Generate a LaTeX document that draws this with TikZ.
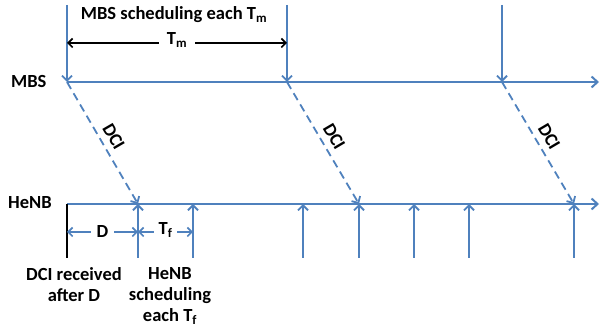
\documentclass[tikz,border=0pt]{standalone}
\usepackage{fontspec}
\setmainfont{Carlito}
\usetikzlibrary{arrows.meta}
\definecolor{lineblue}{RGB}{79,129,189}
\begin{document}
\begin{tikzpicture}[x=1pt,y=-1pt,
  axis/.style={lineblue, line width=2pt, -{Straight Barb[length=6pt,width=11pt]}},
  tick/.style={lineblue, line width=1.8pt, -{Straight Barb[length=5pt,width=10pt]}},
  dci/.style={lineblue, line width=1.8pt, dash pattern=on 8pt off 5pt, -{Straight Barb[length=5pt,width=10pt]}},
  span/.style={line width=1.6pt, {Straight Barb[length=4.5pt,width=9pt]}-{Straight Barb[length=4.5pt,width=9pt]}},
  lbl/.style={text=black, font=\bfseries\fontsize{18.5}{21}\selectfont, inner sep=1pt},
]
\useasboundingbox (0,0) rectangle (600,328);

% time axes
\coordinate (m1) at (67,82);
\coordinate (m2) at (287,82);
\coordinate (m3) at (502,82);
\coordinate (mend) at (599,82);
\coordinate (h0) at (67,204);
\coordinate (h1) at (138,204);
\coordinate (h2) at (359,204);
\coordinate (h3) at (574,204);
\coordinate (hend) at (599,204);

\draw[axis] (m1) -- (mend);
\draw[axis] (h0) -- (hend);

\node[lbl, anchor=base west] (mbs) at (10,88) {MBS};
\node[lbl, anchor=base west] (henb) at (7,209) {HeNB};

% MBS scheduling instants
\foreach \c in {m1,m2,m3}
  \draw[tick] (\c) ++(0,-77) coordinate (\c top) -- (\c);

\node[lbl, anchor=base] (mbstitle) at (174,20) {MBS scheduling each T\textsubscript{m}};

% period Tm
\coordinate (tma) at (67,43);
\coordinate (tmb) at (287,43);
\draw[span, black] (tma) -- (tmb)
  node[midway, lbl, fill=white, inner xsep=8pt, yshift=3pt] (tmlbl) {T\textsubscript{m}};

% DCI transfer MBS -> HeNB
\draw[dci] (m1) -- (h1) node[midway, sloped, above=5pt, lbl] (dci1) {DCI};
\draw[dci] (m2) -- (h2) node[midway, sloped, above=5pt, lbl] (dci2) {DCI};
\draw[dci] (m3) -- (h3) node[midway, sloped, above=5pt, lbl] (dci3) {DCI};

% HeNB scheduling instants
\foreach \x [count=\i] in {138,193,303,359,414,469,574} {
  \coordinate (hb\i) at (\x,258);
  \coordinate (ht\i) at (\x,204);
  \draw[tick] (hb\i) -- (ht\i);
}
\coordinate (h0b) at (67,258);
\draw[black, line width=1.6pt] (h0) -- (h0b);

% delay D and period Tf
\coordinate (da) at (67,232);
\coordinate (db) at (138,232);
\coordinate (tfb) at (193,232);
\draw[span, lineblue] (da) -- (db)
  node[midway, lbl, fill=white, inner xsep=6pt] (dlbl) {D};
\draw[span, lineblue] (db) -- (tfb)
  node[midway, lbl, fill=white, inner xsep=5pt, yshift=2pt] (tflbl) {T\textsubscript{f}};

\node[lbl, align=center, anchor=north] (rx) at (74,266) {DCI received\\after D};
\node[lbl, align=center, anchor=north] (sched) at (170,266) {HeNB\\scheduling\\each T\textsubscript{f}};
\end{tikzpicture}
\end{document}
